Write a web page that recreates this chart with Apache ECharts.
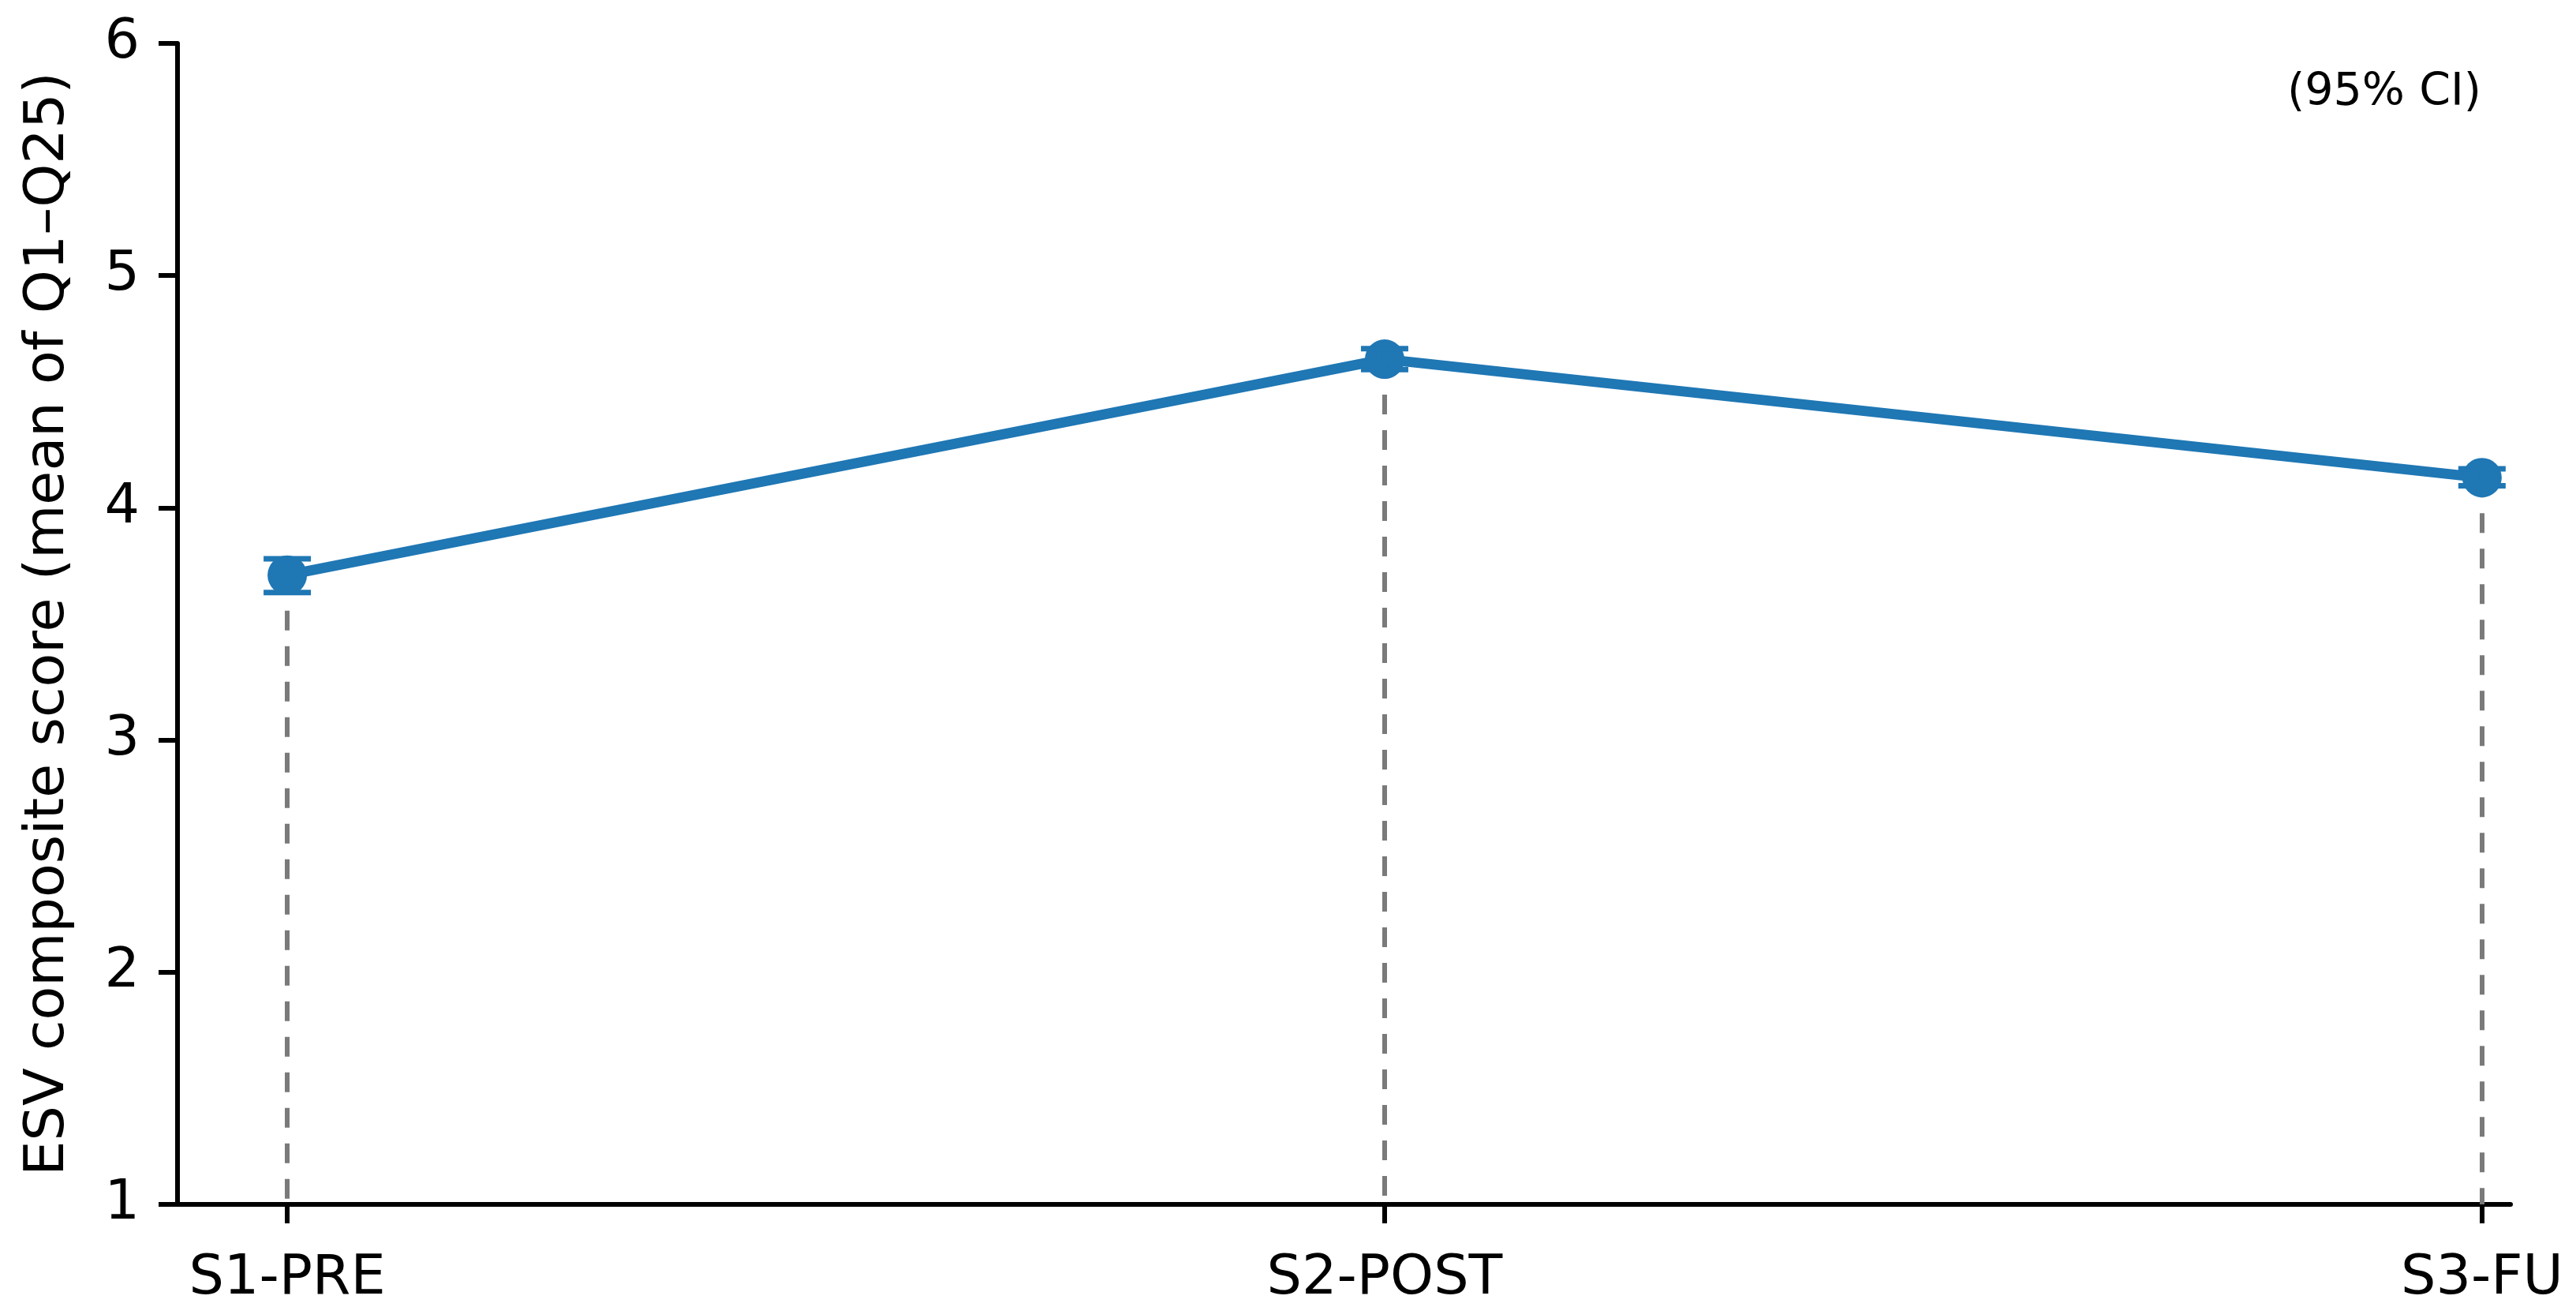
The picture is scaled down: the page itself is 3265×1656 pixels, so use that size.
<!DOCTYPE html>
<html>
<head>
<meta charset="utf-8">
<script src="https://cdn.jsdelivr.net/npm/echarts@6/dist/echarts.min.js"></script>
<style>
  html, body { margin: 0; padding: 0; background: #fff; }
  #chart { width: 3265px; height: 1656px; }
</style>
</head>
<body>
<div id="chart"></div>
<script>
// sessions and composite score (mean with 95% CI)
const categories = ['S1-PRE', 'S2-POST', 'S3-FU']
const means = [3.71, 4.64, 4.13]
const ciLow = [3.635, 4.595, 4.095]
const ciHigh = [3.78, 4.685, 4.168]
const yTicks = [1, 2, 3, 4, 5, 6]

const blue = '#1f77b4'
const font = 'DejaVu Sans'

const chart = echarts.init(document.getElementById('chart'))

const points = means.map((v, i) => [i, v])
const errData = means.map((v, i) => [i, ciLow[i], ciHigh[i]])

chart.setOption({
  animation: false,
  grid: { left: 225, right: 83, top: 55, bottom: 130 },
  xAxis: {
    type: 'value',
    min: -0.1,
    max: 2.026,
    axisLine: { show: true, lineStyle: { color: '#000', width: 6 } },
    axisTick: {
      show: true,
      customValues: [0, 1, 2],
      length: 24,
      lineStyle: { color: '#000', width: 6 }
    },
    axisLabel: {
      customValues: [0, 1, 2],
      formatter: v => categories[Math.round(v)] || '',
      color: '#000',
      fontFamily: font,
      fontSize: 70,
      margin: 60
    },
    splitLine: { show: false }
  },
  yAxis: {
    type: 'value',
    min: yTicks[0],
    max: yTicks[yTicks.length - 1],
    interval: 1,
    name: 'ESV composite score (mean of Q1\u2013Q25)',
    nameLocation: 'middle',
    nameGap: 128,
    nameTextStyle: { color: '#000', fontFamily: font, fontSize: 70 },
    axisLine: { show: true, onZero: false, lineStyle: { color: '#000', width: 6 } },
    axisTick: { show: true, length: 24, lineStyle: { color: '#000', width: 6 } },
    axisLabel: { color: '#000', fontFamily: font, fontSize: 70, margin: 48 },
    splitLine: { show: false }
  },
  graphic: [{
    type: 'text',
    right: 3265 - 3145,
    top: 90,
    style: { text: '(95% CI)', fill: '#000', font: '57px "DejaVu Sans"' }
  }],
  series: [
    {
      type: 'line',
      data: points,
      symbol: 'circle',
      symbolSize: 50,
      lineStyle: { color: blue, width: 13 },
      itemStyle: { color: blue },
      z: 3,
      markLine: {
        silent: true,
        symbol: ['none', 'none'],
        label: { show: false },
        lineStyle: { color: '#7a7a7a', width: 6, type: [25, 20] },
        data: means.map((v, i) => [{ coord: [i, v] }, { coord: [i, yTicks[0]] }]),
        z: 1
      }
    },
    {
      type: 'custom',
      data: errData,
      z: 4,
      renderItem: function (params, api) {
        const x = api.value(0)
        const lo = api.coord([x, api.value(1)])
        const hi = api.coord([x, api.value(2)])
        const half = 30
        const style = { stroke: blue, lineWidth: 7 }
        return {
          type: 'group',
          children: [
            { type: 'line', shape: { x1: lo[0], y1: lo[1], x2: hi[0], y2: hi[1] }, style },
            { type: 'line', shape: { x1: lo[0] - half, y1: lo[1], x2: lo[0] + half, y2: lo[1] }, style },
            { type: 'line', shape: { x1: hi[0] - half, y1: hi[1], x2: hi[0] + half, y2: hi[1] }, style }
          ]
        }
      }
    }
  ]
})
</script>
</body>
</html>
